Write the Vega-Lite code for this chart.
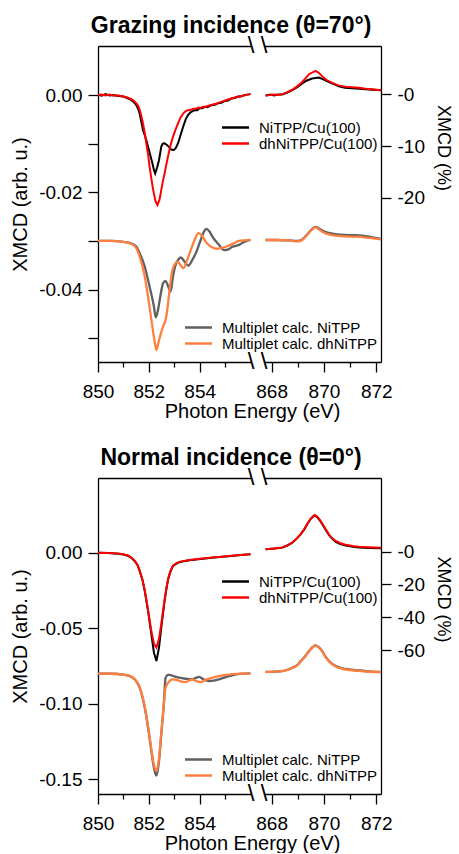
{
"$schema": "https://vega.github.io/schema/vega-lite/v6.json",
"background": "white",
"padding": {"left": 10, "top": 15, "right": 0, "bottom": 0},
"config": {
  "font": "Liberation Sans",
  "view": {"stroke": null},
  "axis": {"grid": false, "domainColor": "#000", "tickColor": "#000", "labelColor": "#000", "titleColor": "#000", "domainWidth": 1.3, "tickWidth": 1.3, "labelFontSize": 19, "titleFontSize": 20, "titleFontWeight": "normal", "labelFlush": false, "labelOverlap": false, "tickSize": 10, "labelPadding": 6},
  "legend": {"orient": "none", "title": null, "labelFontSize": 15, "labelColor": "#000", "symbolType": "M-3,0H3", "symbolSize": 81, "symbolStrokeWidth": 2.5, "labelOffset": 16, "rowPadding": 0, "padding": 0},
  "title": {"fontSize": 23, "fontWeight": "bold", "color": "#000", "anchor": "middle"}
},
"datasets": {
"gL": [
{"k":"NiTPP/Cu(100)","e":850,"v":0.0001},{"k":"NiTPP/Cu(100)","e":850.15,"v":-0.0001},{"k":"NiTPP/Cu(100)","e":850.3,"v":0.0002},{"k":"NiTPP/Cu(100)","e":850.45,"v":-0.0001},{"k":"NiTPP/Cu(100)","e":850.6,"v":0},{"k":"NiTPP/Cu(100)","e":850.8,"v":-0.0002},{"k":"NiTPP/Cu(100)","e":851,"v":-0.0003},{"k":"NiTPP/Cu(100)","e":851.15,"v":-0.0006},{"k":"NiTPP/Cu(100)","e":851.3,"v":-0.001},{"k":"NiTPP/Cu(100)","e":851.4,"v":-0.0014},{"k":"NiTPP/Cu(100)","e":851.5,"v":-0.002},{"k":"NiTPP/Cu(100)","e":851.57,"v":-0.0027},{"k":"NiTPP/Cu(100)","e":851.64,"v":-0.0038},{"k":"NiTPP/Cu(100)","e":851.7,"v":-0.0054},{"k":"NiTPP/Cu(100)","e":851.77,"v":-0.0072},{"k":"NiTPP/Cu(100)","e":851.85,"v":-0.0084},{"k":"NiTPP/Cu(100)","e":851.92,"v":-0.0096},{"k":"NiTPP/Cu(100)","e":851.97,"v":-0.0106},{"k":"NiTPP/Cu(100)","e":852.05,"v":-0.0122},{"k":"NiTPP/Cu(100)","e":852.14,"v":-0.014},{"k":"NiTPP/Cu(100)","e":852.2,"v":-0.0154},{"k":"NiTPP/Cu(100)","e":852.25,"v":-0.0161},{"k":"NiTPP/Cu(100)","e":852.32,"v":-0.015},{"k":"NiTPP/Cu(100)","e":852.4,"v":-0.0134},{"k":"NiTPP/Cu(100)","e":852.49,"v":-0.0106},{"k":"NiTPP/Cu(100)","e":852.55,"v":-0.01},{"k":"NiTPP/Cu(100)","e":852.62,"v":-0.0099},{"k":"NiTPP/Cu(100)","e":852.7,"v":-0.0102},{"k":"NiTPP/Cu(100)","e":852.78,"v":-0.0106},{"k":"NiTPP/Cu(100)","e":852.88,"v":-0.0112},{"k":"NiTPP/Cu(100)","e":852.99,"v":-0.0113},{"k":"NiTPP/Cu(100)","e":853.07,"v":-0.0108},{"k":"NiTPP/Cu(100)","e":853.15,"v":-0.0099},{"k":"NiTPP/Cu(100)","e":853.25,"v":-0.0082},{"k":"NiTPP/Cu(100)","e":853.35,"v":-0.0065},{"k":"NiTPP/Cu(100)","e":853.45,"v":-0.005},{"k":"NiTPP/Cu(100)","e":853.54,"v":-0.0041},{"k":"NiTPP/Cu(100)","e":853.65,"v":-0.0035},{"k":"NiTPP/Cu(100)","e":853.81,"v":-0.0031},{"k":"NiTPP/Cu(100)","e":853.9,"v":-0.0031},{"k":"NiTPP/Cu(100)","e":854,"v":-0.0027},{"k":"NiTPP/Cu(100)","e":854.1,"v":-0.0027},{"k":"NiTPP/Cu(100)","e":854.2,"v":-0.0024},{"k":"NiTPP/Cu(100)","e":854.3,"v":-0.0025},{"k":"NiTPP/Cu(100)","e":854.45,"v":-0.0021},{"k":"NiTPP/Cu(100)","e":854.6,"v":-0.002},{"k":"NiTPP/Cu(100)","e":854.72,"v":-0.0017},{"k":"NiTPP/Cu(100)","e":854.85,"v":-0.0016},{"k":"NiTPP/Cu(100)","e":855,"v":-0.0012},{"k":"NiTPP/Cu(100)","e":855.12,"v":-0.0011},{"k":"NiTPP/Cu(100)","e":855.25,"v":-0.0007},{"k":"NiTPP/Cu(100)","e":855.38,"v":-0.0006},{"k":"NiTPP/Cu(100)","e":855.5,"v":-0.0003},{"k":"NiTPP/Cu(100)","e":855.62,"v":-0.0003},{"k":"NiTPP/Cu(100)","e":855.75,"v":0},{"k":"NiTPP/Cu(100)","e":855.88,"v":0.0001},{"k":"NiTPP/Cu(100)","e":856,"v":0.0002},
{"k":"dhNiTPP/Cu(100)","e":850,"v":0},{"k":"dhNiTPP/Cu(100)","e":850.15,"v":0.0001},{"k":"dhNiTPP/Cu(100)","e":850.3,"v":-0.0001},{"k":"dhNiTPP/Cu(100)","e":850.45,"v":0.0001},{"k":"dhNiTPP/Cu(100)","e":850.6,"v":-0.0001},{"k":"dhNiTPP/Cu(100)","e":850.8,"v":-0.0001},{"k":"dhNiTPP/Cu(100)","e":851,"v":-0.0003},{"k":"dhNiTPP/Cu(100)","e":851.15,"v":-0.0005},{"k":"dhNiTPP/Cu(100)","e":851.3,"v":-0.0008},{"k":"dhNiTPP/Cu(100)","e":851.4,"v":-0.0011},{"k":"dhNiTPP/Cu(100)","e":851.51,"v":-0.0017},{"k":"dhNiTPP/Cu(100)","e":851.58,"v":-0.0022},{"k":"dhNiTPP/Cu(100)","e":851.64,"v":-0.003},{"k":"dhNiTPP/Cu(100)","e":851.7,"v":-0.0042},{"k":"dhNiTPP/Cu(100)","e":851.77,"v":-0.0058},{"k":"dhNiTPP/Cu(100)","e":851.84,"v":-0.0078},{"k":"dhNiTPP/Cu(100)","e":851.9,"v":-0.0099},{"k":"dhNiTPP/Cu(100)","e":851.97,"v":-0.0122},{"k":"dhNiTPP/Cu(100)","e":852.03,"v":-0.0147},{"k":"dhNiTPP/Cu(100)","e":852.1,"v":-0.0172},{"k":"dhNiTPP/Cu(100)","e":852.17,"v":-0.0195},{"k":"dhNiTPP/Cu(100)","e":852.26,"v":-0.0218},{"k":"dhNiTPP/Cu(100)","e":852.34,"v":-0.0226},{"k":"dhNiTPP/Cu(100)","e":852.42,"v":-0.0215},{"k":"dhNiTPP/Cu(100)","e":852.49,"v":-0.0195},{"k":"dhNiTPP/Cu(100)","e":852.55,"v":-0.0178},{"k":"dhNiTPP/Cu(100)","e":852.62,"v":-0.0161},{"k":"dhNiTPP/Cu(100)","e":852.7,"v":-0.014},{"k":"dhNiTPP/Cu(100)","e":852.78,"v":-0.012},{"k":"dhNiTPP/Cu(100)","e":852.86,"v":-0.0102},{"k":"dhNiTPP/Cu(100)","e":852.95,"v":-0.0086},{"k":"dhNiTPP/Cu(100)","e":853.05,"v":-0.0071},{"k":"dhNiTPP/Cu(100)","e":853.15,"v":-0.0058},{"k":"dhNiTPP/Cu(100)","e":853.25,"v":-0.0046},{"k":"dhNiTPP/Cu(100)","e":853.35,"v":-0.0038},{"k":"dhNiTPP/Cu(100)","e":853.45,"v":-0.0033},{"k":"dhNiTPP/Cu(100)","e":853.54,"v":-0.0031},{"k":"dhNiTPP/Cu(100)","e":853.65,"v":-0.003},{"k":"dhNiTPP/Cu(100)","e":853.75,"v":-0.0028},{"k":"dhNiTPP/Cu(100)","e":853.85,"v":-0.0028},{"k":"dhNiTPP/Cu(100)","e":853.94,"v":-0.0026},{"k":"dhNiTPP/Cu(100)","e":854.05,"v":-0.0026},{"k":"dhNiTPP/Cu(100)","e":854.15,"v":-0.0024},{"k":"dhNiTPP/Cu(100)","e":854.25,"v":-0.0024},{"k":"dhNiTPP/Cu(100)","e":854.33,"v":-0.0022},{"k":"dhNiTPP/Cu(100)","e":854.45,"v":-0.0021},{"k":"dhNiTPP/Cu(100)","e":854.55,"v":-0.0019},{"k":"dhNiTPP/Cu(100)","e":854.65,"v":-0.0018},{"k":"dhNiTPP/Cu(100)","e":854.72,"v":-0.0016},{"k":"dhNiTPP/Cu(100)","e":854.85,"v":-0.0014},{"k":"dhNiTPP/Cu(100)","e":855,"v":-0.0011},{"k":"dhNiTPP/Cu(100)","e":855.12,"v":-0.0009},{"k":"dhNiTPP/Cu(100)","e":855.25,"v":-0.0007},{"k":"dhNiTPP/Cu(100)","e":855.38,"v":-0.0005},{"k":"dhNiTPP/Cu(100)","e":855.5,"v":-0.0004},{"k":"dhNiTPP/Cu(100)","e":855.62,"v":-0.0002},{"k":"dhNiTPP/Cu(100)","e":855.75,"v":-0.0001},{"k":"dhNiTPP/Cu(100)","e":855.88,"v":0.0001},{"k":"dhNiTPP/Cu(100)","e":856,"v":0.0002},
{"k":"Multiplet calc. NiTPP","e":850,"v":-0.03},{"k":"Multiplet calc. NiTPP","e":850.5,"v":-0.03},{"k":"Multiplet calc. NiTPP","e":851,"v":-0.0302},{"k":"Multiplet calc. NiTPP","e":851.31,"v":-0.0305},{"k":"Multiplet calc. NiTPP","e":851.51,"v":-0.0312},{"k":"Multiplet calc. NiTPP","e":851.64,"v":-0.0325},{"k":"Multiplet calc. NiTPP","e":851.84,"v":-0.0353},{"k":"Multiplet calc. NiTPP","e":852.03,"v":-0.0394},{"k":"Multiplet calc. NiTPP","e":852.2,"v":-0.0435},{"k":"Multiplet calc. NiTPP","e":852.27,"v":-0.0457},{"k":"Multiplet calc. NiTPP","e":852.35,"v":-0.0445},{"k":"Multiplet calc. NiTPP","e":852.43,"v":-0.0421},{"k":"Multiplet calc. NiTPP","e":852.5,"v":-0.04},{"k":"Multiplet calc. NiTPP","e":852.56,"v":-0.0387},{"k":"Multiplet calc. NiTPP","e":852.66,"v":-0.0382},{"k":"Multiplet calc. NiTPP","e":852.75,"v":-0.0392},{"k":"Multiplet calc. NiTPP","e":852.86,"v":-0.0404},{"k":"Multiplet calc. NiTPP","e":852.95,"v":-0.0373},{"k":"Multiplet calc. NiTPP","e":853.05,"v":-0.035},{"k":"Multiplet calc. NiTPP","e":853.15,"v":-0.0339},{"k":"Multiplet calc. NiTPP","e":853.26,"v":-0.0334},{"k":"Multiplet calc. NiTPP","e":853.4,"v":-0.0342},{"k":"Multiplet calc. NiTPP","e":853.56,"v":-0.0351},{"k":"Multiplet calc. NiTPP","e":853.7,"v":-0.034},{"k":"Multiplet calc. NiTPP","e":853.85,"v":-0.0325},{"k":"Multiplet calc. NiTPP","e":854.04,"v":-0.0298},{"k":"Multiplet calc. NiTPP","e":854.15,"v":-0.0283},{"k":"Multiplet calc. NiTPP","e":854.26,"v":-0.0275},{"k":"Multiplet calc. NiTPP","e":854.38,"v":-0.028},{"k":"Multiplet calc. NiTPP","e":854.5,"v":-0.0291},{"k":"Multiplet calc. NiTPP","e":854.76,"v":-0.0308},{"k":"Multiplet calc. NiTPP","e":854.96,"v":-0.0319},{"k":"Multiplet calc. NiTPP","e":855.1,"v":-0.0318},{"k":"Multiplet calc. NiTPP","e":855.29,"v":-0.0312},{"k":"Multiplet calc. NiTPP","e":855.55,"v":-0.0308},{"k":"Multiplet calc. NiTPP","e":855.75,"v":-0.0302},{"k":"Multiplet calc. NiTPP","e":856,"v":-0.0298},
{"k":"Multiplet calc. dhNiTPP","e":850,"v":-0.03},{"k":"Multiplet calc. dhNiTPP","e":850.5,"v":-0.03},{"k":"Multiplet calc. dhNiTPP","e":851,"v":-0.0302},{"k":"Multiplet calc. dhNiTPP","e":851.31,"v":-0.0306},{"k":"Multiplet calc. dhNiTPP","e":851.51,"v":-0.0315},{"k":"Multiplet calc. dhNiTPP","e":851.64,"v":-0.0332},{"k":"Multiplet calc. dhNiTPP","e":851.84,"v":-0.0373},{"k":"Multiplet calc. dhNiTPP","e":851.97,"v":-0.0415},{"k":"Multiplet calc. dhNiTPP","e":852.1,"v":-0.0462},{"k":"Multiplet calc. dhNiTPP","e":852.23,"v":-0.0507},{"k":"Multiplet calc. dhNiTPP","e":852.3,"v":-0.0524},{"k":"Multiplet calc. dhNiTPP","e":852.4,"v":-0.0504},{"k":"Multiplet calc. dhNiTPP","e":852.56,"v":-0.0476},{"k":"Multiplet calc. dhNiTPP","e":852.66,"v":-0.0462},{"k":"Multiplet calc. dhNiTPP","e":852.73,"v":-0.044},{"k":"Multiplet calc. dhNiTPP","e":852.8,"v":-0.0408},{"k":"Multiplet calc. dhNiTPP","e":852.93,"v":-0.036},{"k":"Multiplet calc. dhNiTPP","e":853.06,"v":-0.0345},{"k":"Multiplet calc. dhNiTPP","e":853.13,"v":-0.0343},{"k":"Multiplet calc. dhNiTPP","e":853.25,"v":-0.035},{"k":"Multiplet calc. dhNiTPP","e":853.36,"v":-0.0356},{"k":"Multiplet calc. dhNiTPP","e":853.5,"v":-0.034},{"k":"Multiplet calc. dhNiTPP","e":853.65,"v":-0.0319},{"k":"Multiplet calc. dhNiTPP","e":853.8,"v":-0.0298},{"k":"Multiplet calc. dhNiTPP","e":853.95,"v":-0.0284},{"k":"Multiplet calc. dhNiTPP","e":854.1,"v":-0.029},{"k":"Multiplet calc. dhNiTPP","e":854.24,"v":-0.0302},{"k":"Multiplet calc. dhNiTPP","e":854.45,"v":-0.0312},{"k":"Multiplet calc. dhNiTPP","e":854.66,"v":-0.0316},{"k":"Multiplet calc. dhNiTPP","e":855.03,"v":-0.0312},{"k":"Multiplet calc. dhNiTPP","e":855.3,"v":-0.0306},{"k":"Multiplet calc. dhNiTPP","e":855.55,"v":-0.03},{"k":"Multiplet calc. dhNiTPP","e":856,"v":-0.0298}
],
"gR": [
{"k":"NiTPP/Cu(100)","e":867.77,"v":-0.0001},{"k":"NiTPP/Cu(100)","e":867.95,"v":0.0001},{"k":"NiTPP/Cu(100)","e":868.1,"v":-0.0001},{"k":"NiTPP/Cu(100)","e":868.25,"v":0.0001},{"k":"NiTPP/Cu(100)","e":868.41,"v":0.0001},{"k":"NiTPP/Cu(100)","e":868.6,"v":0.0005},{"k":"NiTPP/Cu(100)","e":868.79,"v":0.001},{"k":"NiTPP/Cu(100)","e":869,"v":0.0017},{"k":"NiTPP/Cu(100)","e":869.17,"v":0.0024},{"k":"NiTPP/Cu(100)","e":869.35,"v":0.003},{"k":"NiTPP/Cu(100)","e":869.55,"v":0.0034},{"k":"NiTPP/Cu(100)","e":869.81,"v":0.0036},{"k":"NiTPP/Cu(100)","e":870,"v":0.0032},{"k":"NiTPP/Cu(100)","e":870.19,"v":0.0027},{"k":"NiTPP/Cu(100)","e":870.4,"v":0.0022},{"k":"NiTPP/Cu(100)","e":870.57,"v":0.0018},{"k":"NiTPP/Cu(100)","e":870.8,"v":0.0015},{"k":"NiTPP/Cu(100)","e":871.08,"v":0.0014},{"k":"NiTPP/Cu(100)","e":871.35,"v":0.0013},{"k":"NiTPP/Cu(100)","e":871.6,"v":0.0012},{"k":"NiTPP/Cu(100)","e":871.85,"v":0.0011},{"k":"NiTPP/Cu(100)","e":872.18,"v":0.001},
{"k":"dhNiTPP/Cu(100)","e":867.77,"v":-0.0001},{"k":"dhNiTPP/Cu(100)","e":867.95,"v":0},{"k":"dhNiTPP/Cu(100)","e":868.1,"v":0.0001},{"k":"dhNiTPP/Cu(100)","e":868.25,"v":0},{"k":"dhNiTPP/Cu(100)","e":868.41,"v":0.0002},{"k":"dhNiTPP/Cu(100)","e":868.6,"v":0.0006},{"k":"dhNiTPP/Cu(100)","e":868.79,"v":0.0011},{"k":"dhNiTPP/Cu(100)","e":869,"v":0.0019},{"k":"dhNiTPP/Cu(100)","e":869.17,"v":0.0027},{"k":"dhNiTPP/Cu(100)","e":869.3,"v":0.0035},{"k":"dhNiTPP/Cu(100)","e":869.43,"v":0.0043},{"k":"dhNiTPP/Cu(100)","e":869.68,"v":0.005},{"k":"dhNiTPP/Cu(100)","e":869.8,"v":0.0046},{"k":"dhNiTPP/Cu(100)","e":869.93,"v":0.0039},{"k":"dhNiTPP/Cu(100)","e":870.1,"v":0.0031},{"k":"dhNiTPP/Cu(100)","e":870.32,"v":0.0025},{"k":"dhNiTPP/Cu(100)","e":870.55,"v":0.002},{"k":"dhNiTPP/Cu(100)","e":870.83,"v":0.0017},{"k":"dhNiTPP/Cu(100)","e":871.1,"v":0.0016},{"k":"dhNiTPP/Cu(100)","e":871.34,"v":0.0015},{"k":"dhNiTPP/Cu(100)","e":871.6,"v":0.0013},{"k":"dhNiTPP/Cu(100)","e":871.85,"v":0.0012},{"k":"dhNiTPP/Cu(100)","e":872.18,"v":0.001},
{"k":"Multiplet calc. NiTPP","e":867.77,"v":-0.0298},{"k":"Multiplet calc. NiTPP","e":868.2,"v":-0.0298},{"k":"Multiplet calc. NiTPP","e":868.66,"v":-0.0299},{"k":"Multiplet calc. NiTPP","e":869,"v":-0.03},{"k":"Multiplet calc. NiTPP","e":869.11,"v":-0.0299},{"k":"Multiplet calc. NiTPP","e":869.25,"v":-0.0293},{"k":"Multiplet calc. NiTPP","e":869.4,"v":-0.0284},{"k":"Multiplet calc. NiTPP","e":869.55,"v":-0.0275},{"k":"Multiplet calc. NiTPP","e":869.68,"v":-0.0271},{"k":"Multiplet calc. NiTPP","e":869.8,"v":-0.0274},{"k":"Multiplet calc. NiTPP","e":870,"v":-0.028},{"k":"Multiplet calc. NiTPP","e":870.32,"v":-0.0285},{"k":"Multiplet calc. NiTPP","e":870.6,"v":-0.0287},{"k":"Multiplet calc. NiTPP","e":870.96,"v":-0.0288},{"k":"Multiplet calc. NiTPP","e":871.2,"v":-0.0288},{"k":"Multiplet calc. NiTPP","e":871.47,"v":-0.0289},{"k":"Multiplet calc. NiTPP","e":871.8,"v":-0.0292},{"k":"Multiplet calc. NiTPP","e":872.18,"v":-0.0296},
{"k":"Multiplet calc. dhNiTPP","e":867.77,"v":-0.0298},{"k":"Multiplet calc. dhNiTPP","e":868.2,"v":-0.0298},{"k":"Multiplet calc. dhNiTPP","e":868.66,"v":-0.0299},{"k":"Multiplet calc. dhNiTPP","e":869,"v":-0.0301},{"k":"Multiplet calc. dhNiTPP","e":869.11,"v":-0.03},{"k":"Multiplet calc. dhNiTPP","e":869.25,"v":-0.0294},{"k":"Multiplet calc. dhNiTPP","e":869.4,"v":-0.0285},{"k":"Multiplet calc. dhNiTPP","e":869.55,"v":-0.0276},{"k":"Multiplet calc. dhNiTPP","e":869.68,"v":-0.0272},{"k":"Multiplet calc. dhNiTPP","e":869.8,"v":-0.0276},{"k":"Multiplet calc. dhNiTPP","e":870,"v":-0.0283},{"k":"Multiplet calc. dhNiTPP","e":870.32,"v":-0.0288},{"k":"Multiplet calc. dhNiTPP","e":870.6,"v":-0.029},{"k":"Multiplet calc. dhNiTPP","e":870.96,"v":-0.0291},{"k":"Multiplet calc. dhNiTPP","e":871.2,"v":-0.0291},{"k":"Multiplet calc. dhNiTPP","e":871.47,"v":-0.0292},{"k":"Multiplet calc. dhNiTPP","e":871.8,"v":-0.0294},{"k":"Multiplet calc. dhNiTPP","e":872.18,"v":-0.0297}
],
"nL": [
{"k":"NiTPP/Cu(100)","e":850,"v":0},{"k":"NiTPP/Cu(100)","e":850.4,"v":-0.0002},{"k":"NiTPP/Cu(100)","e":850.79,"v":-0.0006},{"k":"NiTPP/Cu(100)","e":851,"v":-0.0012},{"k":"NiTPP/Cu(100)","e":851.18,"v":-0.002},{"k":"NiTPP/Cu(100)","e":851.3,"v":-0.0032},{"k":"NiTPP/Cu(100)","e":851.44,"v":-0.0054},{"k":"NiTPP/Cu(100)","e":851.55,"v":-0.008},{"k":"NiTPP/Cu(100)","e":851.64,"v":-0.012},{"k":"NiTPP/Cu(100)","e":851.75,"v":-0.018},{"k":"NiTPP/Cu(100)","e":851.84,"v":-0.0253},{"k":"NiTPP/Cu(100)","e":851.97,"v":-0.0385},{"k":"NiTPP/Cu(100)","e":852.1,"v":-0.054},{"k":"NiTPP/Cu(100)","e":852.2,"v":-0.066},{"k":"NiTPP/Cu(100)","e":852.3,"v":-0.0717},{"k":"NiTPP/Cu(100)","e":852.4,"v":-0.0628},{"k":"NiTPP/Cu(100)","e":852.49,"v":-0.0496},{"k":"NiTPP/Cu(100)","e":852.62,"v":-0.0319},{"k":"NiTPP/Cu(100)","e":852.7,"v":-0.023},{"k":"NiTPP/Cu(100)","e":852.76,"v":-0.0176},{"k":"NiTPP/Cu(100)","e":852.85,"v":-0.0125},{"k":"NiTPP/Cu(100)","e":852.95,"v":-0.0087},{"k":"NiTPP/Cu(100)","e":853.1,"v":-0.007},{"k":"NiTPP/Cu(100)","e":853.28,"v":-0.0059},{"k":"NiTPP/Cu(100)","e":853.6,"v":-0.005},{"k":"NiTPP/Cu(100)","e":853.94,"v":-0.0043},{"k":"NiTPP/Cu(100)","e":854.3,"v":-0.0037},{"k":"NiTPP/Cu(100)","e":854.59,"v":-0.0032},{"k":"NiTPP/Cu(100)","e":855,"v":-0.0025},{"k":"NiTPP/Cu(100)","e":855.25,"v":-0.0021},{"k":"NiTPP/Cu(100)","e":855.6,"v":-0.0015},{"k":"NiTPP/Cu(100)","e":856,"v":-0.001},
{"k":"dhNiTPP/Cu(100)","e":850,"v":0},{"k":"dhNiTPP/Cu(100)","e":850.4,"v":-0.0001},{"k":"dhNiTPP/Cu(100)","e":850.79,"v":-0.0005},{"k":"dhNiTPP/Cu(100)","e":851,"v":-0.001},{"k":"dhNiTPP/Cu(100)","e":851.18,"v":-0.0018},{"k":"dhNiTPP/Cu(100)","e":851.3,"v":-0.003},{"k":"dhNiTPP/Cu(100)","e":851.44,"v":-0.0052},{"k":"dhNiTPP/Cu(100)","e":851.55,"v":-0.0078},{"k":"dhNiTPP/Cu(100)","e":851.64,"v":-0.0118},{"k":"dhNiTPP/Cu(100)","e":851.75,"v":-0.0178},{"k":"dhNiTPP/Cu(100)","e":851.84,"v":-0.025},{"k":"dhNiTPP/Cu(100)","e":851.97,"v":-0.038},{"k":"dhNiTPP/Cu(100)","e":852.1,"v":-0.052},{"k":"dhNiTPP/Cu(100)","e":852.2,"v":-0.06},{"k":"dhNiTPP/Cu(100)","e":852.3,"v":-0.0628},{"k":"dhNiTPP/Cu(100)","e":852.4,"v":-0.057},{"k":"dhNiTPP/Cu(100)","e":852.49,"v":-0.047},{"k":"dhNiTPP/Cu(100)","e":852.62,"v":-0.031},{"k":"dhNiTPP/Cu(100)","e":852.7,"v":-0.0225},{"k":"dhNiTPP/Cu(100)","e":852.76,"v":-0.017},{"k":"dhNiTPP/Cu(100)","e":852.85,"v":-0.012},{"k":"dhNiTPP/Cu(100)","e":852.95,"v":-0.0085},{"k":"dhNiTPP/Cu(100)","e":853.1,"v":-0.0067},{"k":"dhNiTPP/Cu(100)","e":853.28,"v":-0.0057},{"k":"dhNiTPP/Cu(100)","e":853.6,"v":-0.0048},{"k":"dhNiTPP/Cu(100)","e":853.94,"v":-0.0041},{"k":"dhNiTPP/Cu(100)","e":854.3,"v":-0.0035},{"k":"dhNiTPP/Cu(100)","e":854.59,"v":-0.003},{"k":"dhNiTPP/Cu(100)","e":855,"v":-0.0024},{"k":"dhNiTPP/Cu(100)","e":855.25,"v":-0.002},{"k":"dhNiTPP/Cu(100)","e":855.6,"v":-0.0014},{"k":"dhNiTPP/Cu(100)","e":856,"v":-0.0009},
{"k":"Multiplet calc. NiTPP","e":850,"v":-0.08},{"k":"Multiplet calc. NiTPP","e":850.5,"v":-0.0801},{"k":"Multiplet calc. NiTPP","e":851,"v":-0.0806},{"k":"Multiplet calc. NiTPP","e":851.18,"v":-0.0812},{"k":"Multiplet calc. NiTPP","e":851.44,"v":-0.0838},{"k":"Multiplet calc. NiTPP","e":851.64,"v":-0.0893},{"k":"Multiplet calc. NiTPP","e":851.84,"v":-0.1026},{"k":"Multiplet calc. NiTPP","e":851.97,"v":-0.1158},{"k":"Multiplet calc. NiTPP","e":852.1,"v":-0.1313},{"k":"Multiplet calc. NiTPP","e":852.2,"v":-0.1423},{"k":"Multiplet calc. NiTPP","e":852.3,"v":-0.1476},{"k":"Multiplet calc. NiTPP","e":852.4,"v":-0.1379},{"k":"Multiplet calc. NiTPP","e":852.49,"v":-0.1202},{"k":"Multiplet calc. NiTPP","e":852.58,"v":-0.1026},{"k":"Multiplet calc. NiTPP","e":852.66,"v":-0.0827},{"k":"Multiplet calc. NiTPP","e":852.76,"v":-0.0809},{"k":"Multiplet calc. NiTPP","e":852.8,"v":-0.0809},{"k":"Multiplet calc. NiTPP","e":853,"v":-0.0818},{"k":"Multiplet calc. NiTPP","e":853.19,"v":-0.0827},{"k":"Multiplet calc. NiTPP","e":853.45,"v":-0.0834},{"k":"Multiplet calc. NiTPP","e":853.71,"v":-0.0838},{"k":"Multiplet calc. NiTPP","e":853.85,"v":-0.0828},{"k":"Multiplet calc. NiTPP","e":853.98,"v":-0.0822},{"k":"Multiplet calc. NiTPP","e":854.15,"v":-0.0838},{"k":"Multiplet calc. NiTPP","e":854.37,"v":-0.0849},{"k":"Multiplet calc. NiTPP","e":854.55,"v":-0.0846},{"k":"Multiplet calc. NiTPP","e":854.76,"v":-0.0838},{"k":"Multiplet calc. NiTPP","e":855.16,"v":-0.0816},{"k":"Multiplet calc. NiTPP","e":855.68,"v":-0.08},{"k":"Multiplet calc. NiTPP","e":856,"v":-0.0798},
{"k":"Multiplet calc. dhNiTPP","e":850,"v":-0.08},{"k":"Multiplet calc. dhNiTPP","e":850.5,"v":-0.0801},{"k":"Multiplet calc. dhNiTPP","e":851,"v":-0.0806},{"k":"Multiplet calc. dhNiTPP","e":851.18,"v":-0.0812},{"k":"Multiplet calc. dhNiTPP","e":851.44,"v":-0.0836},{"k":"Multiplet calc. dhNiTPP","e":851.64,"v":-0.089},{"k":"Multiplet calc. dhNiTPP","e":851.84,"v":-0.102},{"k":"Multiplet calc. dhNiTPP","e":851.97,"v":-0.115},{"k":"Multiplet calc. dhNiTPP","e":852.1,"v":-0.13},{"k":"Multiplet calc. dhNiTPP","e":852.2,"v":-0.1405},{"k":"Multiplet calc. dhNiTPP","e":852.3,"v":-0.1445},{"k":"Multiplet calc. dhNiTPP","e":852.4,"v":-0.136},{"k":"Multiplet calc. dhNiTPP","e":852.49,"v":-0.119},{"k":"Multiplet calc. dhNiTPP","e":852.58,"v":-0.102},{"k":"Multiplet calc. dhNiTPP","e":852.66,"v":-0.0893},{"k":"Multiplet calc. dhNiTPP","e":852.76,"v":-0.086},{"k":"Multiplet calc. dhNiTPP","e":852.93,"v":-0.0838},{"k":"Multiplet calc. dhNiTPP","e":853.1,"v":-0.0842},{"k":"Multiplet calc. dhNiTPP","e":853.25,"v":-0.0852},{"k":"Multiplet calc. dhNiTPP","e":853.45,"v":-0.0856},{"k":"Multiplet calc. dhNiTPP","e":853.6,"v":-0.0845},{"k":"Multiplet calc. dhNiTPP","e":853.71,"v":-0.0838},{"k":"Multiplet calc. dhNiTPP","e":853.85,"v":-0.0848},{"k":"Multiplet calc. dhNiTPP","e":854.04,"v":-0.0856},{"k":"Multiplet calc. dhNiTPP","e":854.25,"v":-0.084},{"k":"Multiplet calc. dhNiTPP","e":854.5,"v":-0.0827},{"k":"Multiplet calc. dhNiTPP","e":855.03,"v":-0.0809},{"k":"Multiplet calc. dhNiTPP","e":855.68,"v":-0.08},{"k":"Multiplet calc. dhNiTPP","e":856,"v":-0.0798}
],
"nR": [
{"k":"NiTPP/Cu(100)","e":867.77,"v":0.0023},{"k":"NiTPP/Cu(100)","e":868.1,"v":0.0028},{"k":"NiTPP/Cu(100)","e":868.41,"v":0.0034},{"k":"NiTPP/Cu(100)","e":868.6,"v":0.0048},{"k":"NiTPP/Cu(100)","e":868.79,"v":0.0067},{"k":"NiTPP/Cu(100)","e":868.95,"v":0.0092},{"k":"NiTPP/Cu(100)","e":869.11,"v":0.0122},{"k":"NiTPP/Cu(100)","e":869.25,"v":0.0155},{"k":"NiTPP/Cu(100)","e":869.36,"v":0.0189},{"k":"NiTPP/Cu(100)","e":869.5,"v":0.0225},{"k":"NiTPP/Cu(100)","e":869.64,"v":0.0248},{"k":"NiTPP/Cu(100)","e":869.75,"v":0.0235},{"k":"NiTPP/Cu(100)","e":869.87,"v":0.0208},{"k":"NiTPP/Cu(100)","e":870,"v":0.017},{"k":"NiTPP/Cu(100)","e":870.19,"v":0.0118},{"k":"NiTPP/Cu(100)","e":870.3,"v":0.0095},{"k":"NiTPP/Cu(100)","e":870.45,"v":0.0072},{"k":"NiTPP/Cu(100)","e":870.63,"v":0.0058},{"k":"NiTPP/Cu(100)","e":870.83,"v":0.0048},{"k":"NiTPP/Cu(100)","e":871.1,"v":0.004},{"k":"NiTPP/Cu(100)","e":871.34,"v":0.0035},{"k":"NiTPP/Cu(100)","e":871.7,"v":0.0032},{"k":"NiTPP/Cu(100)","e":872.18,"v":0.003},
{"k":"dhNiTPP/Cu(100)","e":867.77,"v":0.0023},{"k":"dhNiTPP/Cu(100)","e":868.1,"v":0.0029},{"k":"dhNiTPP/Cu(100)","e":868.41,"v":0.0035},{"k":"dhNiTPP/Cu(100)","e":868.6,"v":0.0049},{"k":"dhNiTPP/Cu(100)","e":868.79,"v":0.0068},{"k":"dhNiTPP/Cu(100)","e":868.95,"v":0.0093},{"k":"dhNiTPP/Cu(100)","e":869.11,"v":0.0123},{"k":"dhNiTPP/Cu(100)","e":869.25,"v":0.0157},{"k":"dhNiTPP/Cu(100)","e":869.36,"v":0.019},{"k":"dhNiTPP/Cu(100)","e":869.5,"v":0.0227},{"k":"dhNiTPP/Cu(100)","e":869.64,"v":0.025},{"k":"dhNiTPP/Cu(100)","e":869.75,"v":0.0238},{"k":"dhNiTPP/Cu(100)","e":869.87,"v":0.0211},{"k":"dhNiTPP/Cu(100)","e":870,"v":0.0175},{"k":"dhNiTPP/Cu(100)","e":870.19,"v":0.0122},{"k":"dhNiTPP/Cu(100)","e":870.3,"v":0.01},{"k":"dhNiTPP/Cu(100)","e":870.45,"v":0.0078},{"k":"dhNiTPP/Cu(100)","e":870.63,"v":0.0063},{"k":"dhNiTPP/Cu(100)","e":870.83,"v":0.0053},{"k":"dhNiTPP/Cu(100)","e":871.1,"v":0.0045},{"k":"dhNiTPP/Cu(100)","e":871.34,"v":0.004},{"k":"dhNiTPP/Cu(100)","e":871.7,"v":0.0037},{"k":"dhNiTPP/Cu(100)","e":872.18,"v":0.0034},
{"k":"Multiplet calc. NiTPP","e":867.77,"v":-0.0789},{"k":"Multiplet calc. NiTPP","e":868.41,"v":-0.0783},{"k":"Multiplet calc. NiTPP","e":868.79,"v":-0.0761},{"k":"Multiplet calc. NiTPP","e":869,"v":-0.074},{"k":"Multiplet calc. NiTPP","e":869.11,"v":-0.0717},{"k":"Multiplet calc. NiTPP","e":869.28,"v":-0.0685},{"k":"Multiplet calc. NiTPP","e":869.43,"v":-0.065},{"k":"Multiplet calc. NiTPP","e":869.58,"v":-0.0622},{"k":"Multiplet calc. NiTPP","e":869.68,"v":-0.0613},{"k":"Multiplet calc. NiTPP","e":869.8,"v":-0.0625},{"k":"Multiplet calc. NiTPP","e":869.93,"v":-0.065},{"k":"Multiplet calc. NiTPP","e":870.05,"v":-0.0685},{"k":"Multiplet calc. NiTPP","e":870.19,"v":-0.0717},{"k":"Multiplet calc. NiTPP","e":870.45,"v":-0.075},{"k":"Multiplet calc. NiTPP","e":870.7,"v":-0.0765},{"k":"Multiplet calc. NiTPP","e":870.96,"v":-0.0772},{"k":"Multiplet calc. NiTPP","e":871.3,"v":-0.0778},{"k":"Multiplet calc. NiTPP","e":871.6,"v":-0.0783},{"k":"Multiplet calc. NiTPP","e":872.18,"v":-0.0789},
{"k":"Multiplet calc. dhNiTPP","e":867.77,"v":-0.079},{"k":"Multiplet calc. dhNiTPP","e":868.41,"v":-0.0784},{"k":"Multiplet calc. dhNiTPP","e":868.79,"v":-0.0763},{"k":"Multiplet calc. dhNiTPP","e":869,"v":-0.0742},{"k":"Multiplet calc. dhNiTPP","e":869.11,"v":-0.072},{"k":"Multiplet calc. dhNiTPP","e":869.28,"v":-0.0688},{"k":"Multiplet calc. dhNiTPP","e":869.43,"v":-0.0653},{"k":"Multiplet calc. dhNiTPP","e":869.58,"v":-0.0624},{"k":"Multiplet calc. dhNiTPP","e":869.68,"v":-0.0615},{"k":"Multiplet calc. dhNiTPP","e":869.8,"v":-0.0627},{"k":"Multiplet calc. dhNiTPP","e":869.93,"v":-0.0653},{"k":"Multiplet calc. dhNiTPP","e":870.05,"v":-0.0688},{"k":"Multiplet calc. dhNiTPP","e":870.19,"v":-0.072},{"k":"Multiplet calc. dhNiTPP","e":870.45,"v":-0.0753},{"k":"Multiplet calc. dhNiTPP","e":870.7,"v":-0.0768},{"k":"Multiplet calc. dhNiTPP","e":870.96,"v":-0.0776},{"k":"Multiplet calc. dhNiTPP","e":871.3,"v":-0.0782},{"k":"Multiplet calc. dhNiTPP","e":871.6,"v":-0.0786},{"k":"Multiplet calc. dhNiTPP","e":872.18,"v":-0.0791}
]
},
"spacing": 26,
"resolve": {"scale": {"color": "independent", "stroke": "independent"}, "legend": {"color": "independent", "stroke": "independent"}},
"vconcat": [
{
  "title": {"text": "Grazing incidence (θ=70°)", "offset": -4},
  "spacing": 13,
  "bounds": "flush",
  "resolve": {"scale": {"color": "independent", "stroke": "independent"}, "legend": {"color": "independent", "stroke": "independent"}},
  "hconcat": [
    {
      "width": 153, "height": 316,
      "data": {"name": "gL"},
      "resolve": {"axis": {"x": "independent", "y": "independent"}},
      "layer": [
        {
          "transform": [{"filter": {"field": "k", "oneOf": ["NiTPP/Cu(100)", "dhNiTPP/Cu(100)"]}}],
          "mark": {"type": "line", "strokeWidth": 2, "clip": true},
          "encoding": {
            "x": {"field": "e", "type": "quantitative", "scale": {"domain": [850, 856.02], "nice": false, "zero": false}, "axis": {"orient": "bottom", "values": [850, 852, 854], "format": "d", "title": "Photon Energy (eV)", "titleX": 154, "labelPadding": 10, "titlePadding": 0}},
            "y": {"field": "v", "type": "quantitative", "scale": {"domain": [-0.0549, 0.0101], "nice": false, "zero": false}, "axis": {"orient": "left", "values": [0, -0.01, -0.02, -0.03, -0.04, -0.05], "labelExpr": "abs(round(datum.value*100)) % 2 == 0 ? (datum.value < -0.0001 ? '-' : '') + format(abs(datum.value), '.2f') : ''", "title": "XMCD (arb. u.)", "labelPadding": 6, "titlePadding": 8}},
            "stroke": {"field": "k", "type": "nominal", "scale": {"domain": ["NiTPP/Cu(100)", "dhNiTPP/Cu(100)"], "range": ["#000000", "#ff0000"]}, "legend": {"legendX": 130, "legendY": 74, "rowPadding": -2}}
          }
        },
        {
          "transform": [{"filter": {"field": "k", "oneOf": ["Multiplet calc. NiTPP", "Multiplet calc. dhNiTPP"]}}],
          "mark": {"type": "line", "strokeWidth": 2.3, "clip": true, "interpolate": "monotone"},
          "encoding": {
            "x": {"field": "e", "type": "quantitative", "scale": {"domain": [850, 856.02], "nice": false, "zero": false}, "axis": {"orient": "top", "ticks": false, "labels": false, "title": null, "domain": true}},
            "y": {"field": "v", "type": "quantitative", "scale": {"domain": [-0.0549, 0.0101], "nice": false, "zero": false}, "axis": null},
            "color": {"field": "k", "type": "nominal", "scale": {"domain": ["Multiplet calc. NiTPP", "Multiplet calc. dhNiTPP"], "range": ["#5f5f5f", "#ff7f40"]}, "legend": {"legendX": 93, "legendY": 274, "rowPadding": -1}}
          }
        },
        {
          "data": {"values": [{"e": 856.02, "v": 0.0101}, {"e": 856.02, "v": -0.0549}]},
          "mark": {"type": "text", "text": "\\", "fontSize": 24, "baseline": "middle", "align": "center", "color": "#000"},
          "encoding": {
            "x": {"field": "e", "type": "quantitative", "scale": {"domain": [850, 856.02], "nice": false, "zero": false}, "axis": {"orient": "bottom", "values": [851, 853, 855], "labels": false, "tickSize": 5, "domain": false, "title": null}},
            "y": {"field": "v", "type": "quantitative", "scale": {"domain": [-0.0549, 0.0101], "nice": false, "zero": false}, "axis": null}
          }
        }
      ]
    },
    {
      "width": 117, "height": 316,
      "data": {"name": "gR"},
      "resolve": {"scale": {"y": "independent"}, "axis": {"x": "independent", "y": "independent"}},
      "layer": [
        {
          "transform": [{"filter": {"field": "k", "oneOf": ["NiTPP/Cu(100)", "dhNiTPP/Cu(100)"]}}],
          "mark": {"type": "line", "strokeWidth": 2, "clip": true},
          "encoding": {
            "x": {"field": "e", "type": "quantitative", "scale": {"domain": [867.71, 872.18], "nice": false, "zero": false}, "axis": {"orient": "bottom", "values": [868, 870, 872], "format": "d", "title": null, "labelPadding": 10}},
            "y": {"field": "v", "type": "quantitative", "scale": {"domain": [-0.0549, 0.0101], "nice": false, "zero": false}, "axis": null},
            "stroke": {"field": "k", "type": "nominal", "scale": {"domain": ["NiTPP/Cu(100)", "dhNiTPP/Cu(100)"], "range": ["#000000", "#ff0000"]}, "legend": null}
          }
        },
        {
          "transform": [{"filter": {"field": "k", "oneOf": ["Multiplet calc. NiTPP", "Multiplet calc. dhNiTPP"]}}],
          "mark": {"type": "line", "strokeWidth": 2.3, "clip": true, "interpolate": "monotone"},
          "encoding": {
            "x": {"field": "e", "type": "quantitative", "scale": {"domain": [867.71, 872.18], "nice": false, "zero": false}, "axis": {"orient": "top", "ticks": false, "labels": false, "title": null, "domain": true}},
            "y": {"field": "v", "type": "quantitative", "scale": {"domain": [-0.0549, 0.0101], "nice": false, "zero": false}, "axis": null},
            "color": {"field": "k", "type": "nominal", "scale": {"domain": ["Multiplet calc. NiTPP", "Multiplet calc. dhNiTPP"], "range": ["#5f5f5f", "#ff7f40"]}, "legend": null}
          }
        },
        {
          "data": {"values": [{"e": 867.71, "v": 0.0101}, {"e": 867.71, "v": -0.0549}]},
          "mark": {"type": "text", "text": "\\", "fontSize": 24, "baseline": "middle", "align": "center", "color": "#000"},
          "encoding": {
            "x": {"field": "e", "type": "quantitative", "scale": {"domain": [867.71, 872.18], "nice": false, "zero": false}, "axis": {"orient": "bottom", "values": [869, 871], "labels": false, "tickSize": 5, "domain": false, "title": null}},
            "y": {"field": "v", "type": "quantitative", "scale": {"domain": [-0.0549, 0.0101], "nice": false, "zero": false}, "axis": null}
          }
        },
        {
          "data": {"values": [{"pct": 0}]},
          "mark": {"type": "rule", "opacity": 0},
          "encoding": {
            "y": {"field": "pct", "type": "quantitative", "scale": {"domain": [-51.74, 9.38], "nice": false, "zero": false}, "axis": {"orient": "right", "values": [0, -10, -20], "labelExpr": "'-' + format(abs(datum.value), 'd')", "title": "XMCD (%)", "titleFontSize": 18, "titleY": 101.5, "titlePadding": 9, "labelPadding": 6}}
          }
        }
      ]
    }
  ]
},
{
  "title": {"text": "Normal incidence (θ=0°)", "offset": -4},
  "spacing": 13,
  "bounds": "flush",
  "resolve": {"scale": {"color": "independent", "stroke": "independent"}, "legend": {"color": "independent", "stroke": "independent"}},
  "hconcat": [
    {
      "width": 153, "height": 316,
      "data": {"name": "nL"},
      "resolve": {"axis": {"x": "independent", "y": "independent"}},
      "layer": [
        {
          "transform": [{"filter": {"field": "k", "oneOf": ["NiTPP/Cu(100)", "dhNiTPP/Cu(100)"]}}],
          "mark": {"type": "line", "strokeWidth": 2, "clip": true},
          "encoding": {
            "x": {"field": "e", "type": "quantitative", "scale": {"domain": [850, 856.02], "nice": false, "zero": false}, "axis": {"orient": "bottom", "values": [850, 852, 854], "format": "d", "title": "Photon Energy (eV)", "titleX": 154, "labelPadding": 10, "titlePadding": 0}},
            "y": {"field": "v", "type": "quantitative", "scale": {"domain": [-0.1597, 0.0495], "nice": false, "zero": false}, "axis": {"orient": "left", "values": [0, -0.05, -0.1, -0.15], "labelExpr": "(datum.value < -0.0001 ? '-' : '') + format(abs(datum.value), '.2f')", "title": "XMCD (arb. u.)", "labelPadding": 6, "titlePadding": 8}},
            "stroke": {"field": "k", "type": "nominal", "scale": {"domain": ["NiTPP/Cu(100)", "dhNiTPP/Cu(100)"], "range": ["#000000", "#ff0000"]}, "legend": {"legendX": 130, "legendY": 96, "rowPadding": -2}}
          }
        },
        {
          "transform": [{"filter": {"field": "k", "oneOf": ["Multiplet calc. NiTPP", "Multiplet calc. dhNiTPP"]}}],
          "mark": {"type": "line", "strokeWidth": 2.3, "clip": true, "interpolate": "monotone"},
          "encoding": {
            "x": {"field": "e", "type": "quantitative", "scale": {"domain": [850, 856.02], "nice": false, "zero": false}, "axis": {"orient": "top", "ticks": false, "labels": false, "title": null, "domain": true}},
            "y": {"field": "v", "type": "quantitative", "scale": {"domain": [-0.1597, 0.0495], "nice": false, "zero": false}, "axis": null},
            "color": {"field": "k", "type": "nominal", "scale": {"domain": ["Multiplet calc. NiTPP", "Multiplet calc. dhNiTPP"], "range": ["#5f5f5f", "#ff7f40"]}, "legend": {"legendX": 93, "legendY": 274, "rowPadding": -1}}
          }
        },
        {
          "data": {"values": [{"e": 856.02, "v": 0.0495}, {"e": 856.02, "v": -0.1597}]},
          "mark": {"type": "text", "text": "\\", "fontSize": 24, "baseline": "middle", "align": "center", "color": "#000"},
          "encoding": {
            "x": {"field": "e", "type": "quantitative", "scale": {"domain": [850, 856.02], "nice": false, "zero": false}, "axis": {"orient": "bottom", "values": [851, 853, 855], "labels": false, "tickSize": 5, "domain": false, "title": null}},
            "y": {"field": "v", "type": "quantitative", "scale": {"domain": [-0.1597, 0.0495], "nice": false, "zero": false}, "axis": null}
          }
        }
      ]
    },
    {
      "width": 117, "height": 316,
      "data": {"name": "nR"},
      "resolve": {"scale": {"y": "independent"}, "axis": {"x": "independent", "y": "independent"}},
      "layer": [
        {
          "transform": [{"filter": {"field": "k", "oneOf": ["NiTPP/Cu(100)", "dhNiTPP/Cu(100)"]}}],
          "mark": {"type": "line", "strokeWidth": 2, "clip": true},
          "encoding": {
            "x": {"field": "e", "type": "quantitative", "scale": {"domain": [867.71, 872.18], "nice": false, "zero": false}, "axis": {"orient": "bottom", "values": [868, 870, 872], "format": "d", "title": null, "labelPadding": 10}},
            "y": {"field": "v", "type": "quantitative", "scale": {"domain": [-0.1597, 0.0495], "nice": false, "zero": false}, "axis": null},
            "stroke": {"field": "k", "type": "nominal", "scale": {"domain": ["NiTPP/Cu(100)", "dhNiTPP/Cu(100)"], "range": ["#000000", "#ff0000"]}, "legend": null}
          }
        },
        {
          "transform": [{"filter": {"field": "k", "oneOf": ["Multiplet calc. NiTPP", "Multiplet calc. dhNiTPP"]}}],
          "mark": {"type": "line", "strokeWidth": 2.3, "clip": true, "interpolate": "monotone"},
          "encoding": {
            "x": {"field": "e", "type": "quantitative", "scale": {"domain": [867.71, 872.18], "nice": false, "zero": false}, "axis": {"orient": "top", "ticks": false, "labels": false, "title": null, "domain": true}},
            "y": {"field": "v", "type": "quantitative", "scale": {"domain": [-0.1597, 0.0495], "nice": false, "zero": false}, "axis": null},
            "color": {"field": "k", "type": "nominal", "scale": {"domain": ["Multiplet calc. NiTPP", "Multiplet calc. dhNiTPP"], "range": ["#5f5f5f", "#ff7f40"]}, "legend": null}
          }
        },
        {
          "data": {"values": [{"e": 867.71, "v": 0.0495}, {"e": 867.71, "v": -0.1597}]},
          "mark": {"type": "text", "text": "\\", "fontSize": 24, "baseline": "middle", "align": "center", "color": "#000"},
          "encoding": {
            "x": {"field": "e", "type": "quantitative", "scale": {"domain": [867.71, 872.18], "nice": false, "zero": false}, "axis": {"orient": "bottom", "values": [869, 871], "labels": false, "tickSize": 5, "domain": false, "title": null}},
            "y": {"field": "v", "type": "quantitative", "scale": {"domain": [-0.1597, 0.0495], "nice": false, "zero": false}, "axis": null}
          }
        },
        {
          "data": {"values": [{"pct": 0}]},
          "mark": {"type": "rule", "opacity": 0},
          "encoding": {
            "y": {"field": "pct", "type": "quantitative", "scale": {"domain": [-147.1, 44.6], "nice": false, "zero": false}, "axis": {"orient": "right", "values": [0, -20, -40, -60], "labelExpr": "'-' + format(abs(datum.value), 'd')", "title": "XMCD (%)", "titleFontSize": 18, "titleY": 121, "titlePadding": 9, "labelPadding": 6}}
          }
        }
      ]
    }
  ]
}
]
}
